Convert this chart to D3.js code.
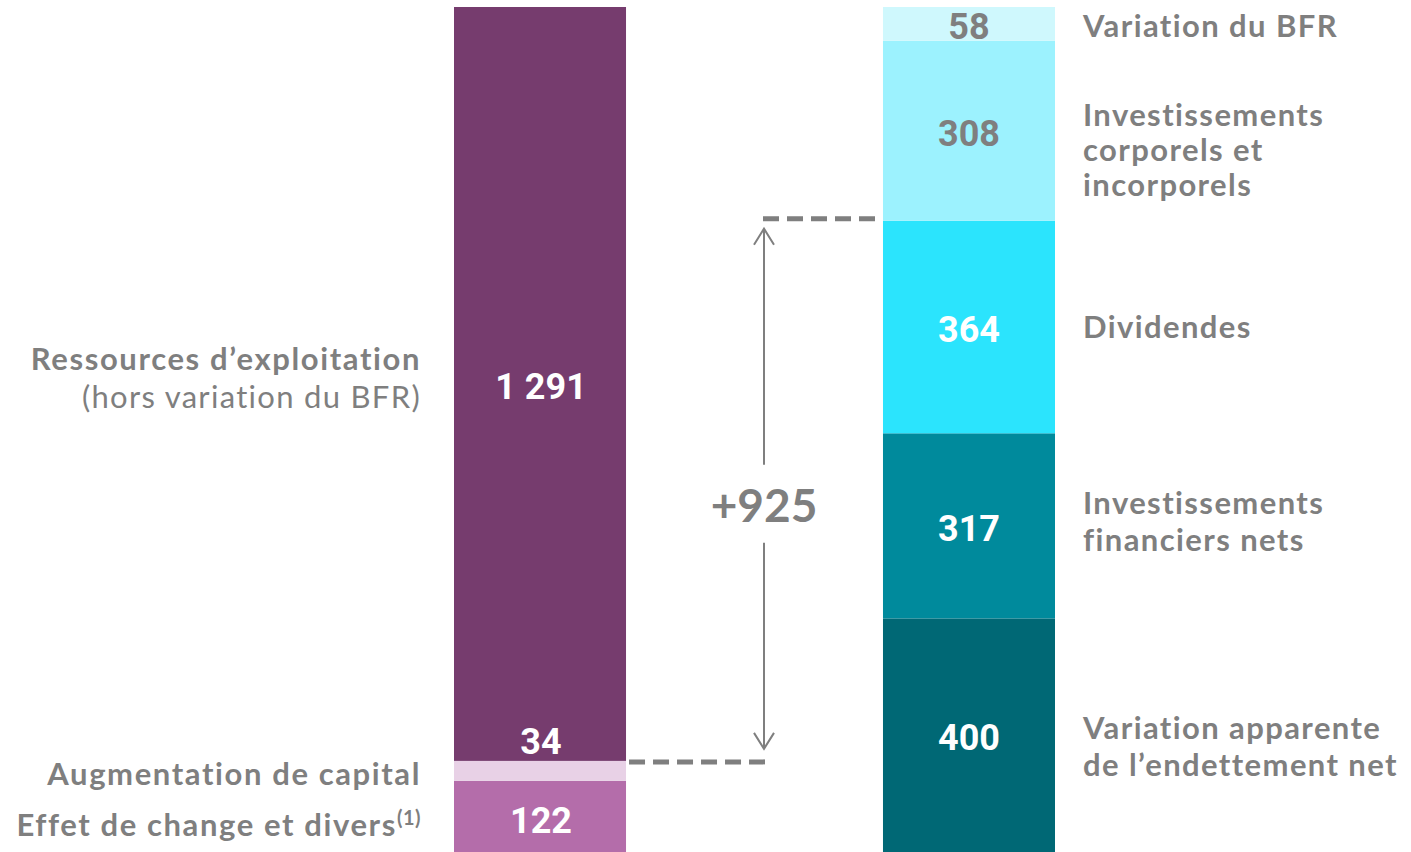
<!DOCTYPE html>
<html>
<head>
<meta charset="utf-8">
<script src="https://cdn.jsdelivr.net/npm/d3@7"></script>
<style>
  body { margin: 0; background: #fff; }
  svg { display: block; }
</style>
</head>
<body>
<svg id="flowChart" width="1411" height="852"></svg>
<script>
// left bar: resources (bottom -> top)
var leftValues = [122, 34, 1291];
var leftLabels = [["Effet de change et divers"], ["Augmentation de capital"], ["Ressources d’exploitation", "(hors variation du BFR)"]];
var leftColors = ["#b46daa", "#e8d1e6", "#763c6e"];

// right bar: uses (bottom -> top)
var rightValues = [400, 317, 364, 308, 58];
var rightLabels = [["Variation apparente", "de l’endettement net"], ["Investissements", "financiers nets"], ["Dividendes"], ["Investissements", "corporels et", "incorporels"], ["Variation du BFR"]];
var rightColors = ["#006875", "#008a9c", "#2be4fd", "#9cf2fe", "#cff8fd"];
var rightValueColors = ["#fff", "#fff", "#fff", "#7f7f7f", "#7f7f7f"];

var bars = ["left", "right"];
var variationText = "+925";

var svg = d3.select("#flowChart");
var grey = "#7f7f7f";
var labelFont = "Lato, 'Open Sans', sans-serif";
var valueFont = "Roboto, sans-serif";

var total = d3.sum(leftValues);
var y = d3.scaleLinear().domain([0, total]).range([852, 7]);
var x = d3.scaleBand().domain(bars).range([454, 1055]).paddingInner(0.599).paddingOuter(0);
var fmt = d3.formatLocale({ decimal: ",", thousands: " ", grouping: [3] }).format(",d");

function stack(values) {
    var acc = 0;
    return values.map(function (v, i) {
        var d = { value: v, i: i, y0: acc, y1: acc + v };
        acc += v;
        return d;
    });
}

var leftStack = stack(leftValues);
var rightStack = stack(rightValues);

function drawBar(data, key, colors) {
    svg.append("g").selectAll("rect")
        .data(data)
        .join("rect")
        .attr("x", x(key))
        .attr("width", x.bandwidth())
        .attr("y", function (d) { return y(d.y1); })
        .attr("height", function (d) { return y(d.y0) - y(d.y1); })
        .attr("fill", function (d) { return colors[d.i]; });
}

drawBar(leftStack, "left", leftColors);
drawBar(rightStack, "right", rightColors);

// value labels
var leftValueDy = [17, -7, 15];
svg.append("g").selectAll("text")
    .data(leftStack)
    .join("text")
    .attr("x", x("left") + x.bandwidth() / 2 + 1)
    .attr("y", function (d) {
        if (d.i == 1) return y(d.y1) + leftValueDy[d.i];
        return (y(d.y0) + y(d.y1)) / 2 + leftValueDy[d.i];
    })
    .attr("text-anchor", "middle")
    .style("font-family", valueFont)
    .style("font-weight", 700)
    .style("font-size", "36px")
    .attr("fill", "#fff")
    .text(function (d) { return fmt(d.value); });

svg.append("g").selectAll("text")
    .data(rightStack)
    .join("text")
    .attr("x", x("right") + x.bandwidth() / 2)
    .attr("y", function (d) { return (y(d.y0) + y(d.y1)) / 2 + 15; })
    .attr("text-anchor", "middle")
    .style("font-family", valueFont)
    .style("font-weight", 700)
    .style("font-size", "36px")
    .attr("fill", function (d) { return rightValueColors[d.i]; })
    .text(function (d) { return fmt(d.value); });

// category labels, left side
var leftLabelDy = [9, 3, -6];
leftStack.forEach(function (d) {
    var lines = leftLabels[d.i];
    var cy = (y(d.y0) + y(d.y1)) / 2 + leftLabelDy[d.i];
    var t = svg.append("text")
        .attr("x", 421)
        .attr("y", cy - (lines.length - 1) * 19 + 11)
        .attr("text-anchor", "end")
        .style("font-family", labelFont)
        .style("font-size", "31px")
        .attr("fill", grey);
    lines.forEach(function (line, j) {
        t.append("tspan")
            .attr("x", 421)
            .attr("dy", j == 0 ? 0 : 38)
            .style("font-weight", j == 0 ? 700 : 400)
            .style("letter-spacing", j == 0 ? "1.6px" : "1.3px")
            .text(line);
    });
    if (d.i == 0) {
        t.append("tspan")
            .attr("dy", -11)
            .style("font-weight", 700)
            .style("font-size", "20px")
            .style("letter-spacing", "0.5px")
            .text("(1)");
    }
});

// category labels, right side
var rightLabelDy = [11, -4, 0, 19, 2];
var rightLineGap = [37, 37, 0, 35, 0];
rightStack.forEach(function (d) {
    var lines = rightLabels[d.i];
    var cy = (y(d.y0) + y(d.y1)) / 2 + rightLabelDy[d.i];
    var gap = rightLineGap[d.i];
    var t = svg.append("text")
        .attr("x", 1083)
        .attr("y", cy - (lines.length - 1) * gap / 2 + 11)
        .style("font-family", labelFont)
        .style("font-weight", 700)
        .style("font-size", "31px")
        .style("letter-spacing", "1.4px")
        .attr("fill", grey);
    lines.forEach(function (line, j) {
        t.append("tspan")
            .attr("x", 1083)
            .attr("dy", j == 0 ? 0 : gap)
            .text(line);
    });
});

// dashed guides and the +925 arrow
var lowLevel = leftValues[0] + leftValues[1];
var highLevel = rightValues[0] + rightValues[1] + rightValues[2];
var arrowX = 764;

svg.append("line")
    .attr("x1", x("left") + x.bandwidth() + 3).attr("x2", arrowX + 4)
    .attr("y1", y(lowLevel) + 1).attr("y2", y(lowLevel) + 1)
    .attr("stroke", grey).attr("stroke-width", 5).attr("stroke-dasharray", "16,8");

svg.append("line")
    .attr("x1", arrowX - 1).attr("x2", x("right") - 6)
    .attr("y1", y(highLevel) - 2).attr("y2", y(highLevel) - 2)
    .attr("stroke", grey).attr("stroke-width", 5).attr("stroke-dasharray", "16,8");

var aTop = y(highLevel) + 8, aBot = y(lowLevel) - 12;
var mid = (aTop + aBot) / 2 + 16;
var arrowG = svg.append("g").attr("stroke", grey).attr("stroke-width", 2).attr("fill", "none");
arrowG.append("line").attr("x1", arrowX).attr("x2", arrowX).attr("y1", aTop).attr("y2", mid - 40);
arrowG.append("line").attr("x1", arrowX).attr("x2", arrowX).attr("y1", mid + 38).attr("y2", aBot);
arrowG.append("path").attr("d", "M" + (arrowX - 10) + "," + (aTop + 16) + "L" + arrowX + "," + aTop + "L" + (arrowX + 10) + "," + (aTop + 16));
arrowG.append("path").attr("d", "M" + (arrowX - 10) + "," + (aBot - 16) + "L" + arrowX + "," + aBot + "L" + (arrowX + 10) + "," + (aBot - 16));

svg.append("text")
    .attr("x", arrowX)
    .attr("y", mid + 17)
    .attr("text-anchor", "middle")
    .style("font-family", labelFont)
    .style("font-weight", 700)
    .style("font-size", "46px")
    .attr("fill", grey)
    .text(variationText);
</script>
</body>
</html>
